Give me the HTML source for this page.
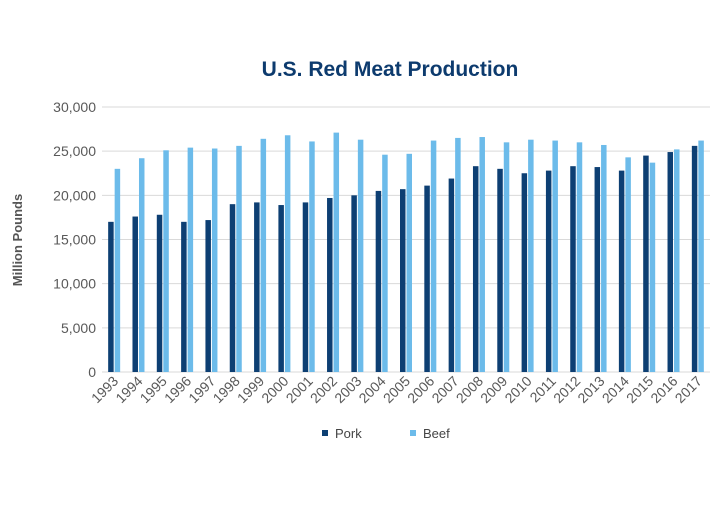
<!DOCTYPE html>
<html><head><meta charset="utf-8"><style>
body{margin:0;background:#fff;font-family:"Liberation Sans",sans-serif}
svg text{font-family:"Liberation Sans",sans-serif}
</style></head><body>
<svg id="chart" width="720" height="500">
<text x="390" y="76" text-anchor="middle" font-size="21" font-weight="bold" fill="#0d3b6e">U.S. Red Meat Production</text>
<text transform="translate(22,240) rotate(-90)" text-anchor="middle" font-size="13" font-weight="bold" fill="#555">Million Pounds</text>
<g id="grid"></g><g id="bars"></g><g id="xlabels"></g>
<g>
<rect x="322" y="430" width="6" height="6" fill="#0d3f73"/>
<text x="335" y="438" font-size="13" fill="#444">Pork</text>
<rect x="410" y="430" width="6" height="6" fill="#6cbbea"/>
<text x="423" y="438" font-size="13" fill="#444">Beef</text>
</g>
</svg>
<script>
const years=["1993","1994","1995","1996","1997","1998","1999","2000","2001","2002","2003","2004","2005","2006","2007","2008","2009","2010","2011","2012","2013","2014","2015","2016","2017"];
const pork=[17000,17600,17800,17000,17200,19000,19200,18900,19200,19700,20000,20500,20700,21100,21900,23300,23000,22500,22800,23300,23200,22800,24500,24900,25600];
const beef=[23000,24200,25100,25400,25300,25600,26400,26800,26100,27100,26300,24600,24700,26200,26500,26600,26000,26300,26200,26000,25700,24300,23700,25200,26200];
const yTicks=[0,5000,10000,15000,20000,25000,30000];
const NS="http://www.w3.org/2000/svg";
const x0=102,x1=710,y0=372,y1=107,yMax=30000;
const band=(x1-x0)/years.length;
const ys=v=>y0-(v/yMax)*(y0-y1);
const grid=document.getElementById('grid'),bars=document.getElementById('bars'),xl=document.getElementById('xlabels');
function mk(t,a){const e=document.createElementNS(NS,t);for(const k in a)e.setAttribute(k,a[k]);return e;}
yTicks.forEach(v=>{
 const l=mk('line',{x1:x0,x2:x1,y1:ys(v),y2:ys(v),stroke:'#d9d9d9','stroke-width':1});
 
 
 grid.appendChild(l);
 const t=mk('text',{x:x0-6,y:ys(v)+5,'text-anchor':'end','font-size':14,fill:'#595959'});
 t.textContent=v.toLocaleString('en-US');
 
 
 grid.appendChild(t);
});
years.forEach((y,i)=>{
 const c=x0+band*(i+0.5);
 const p=mk('rect',{x:c-6,y:ys(pork[i]),width:5.5,height:y0-ys(pork[i]),fill:'#0d3f73'});
 
 
 bars.appendChild(p);
 const b=mk('rect',{x:c+0.5,y:ys(beef[i]),width:5.5,height:y0-ys(beef[i]),fill:'#6cbbea'});
 
 
 bars.appendChild(b);
 const t=mk('text',{transform:`translate(${c+5},${y0+10}) rotate(-45)`,'text-anchor':'end','font-size':14,fill:'#595959'});
 t.textContent=y;
 
 
 xl.appendChild(t);
});
</script>
</body></html>
